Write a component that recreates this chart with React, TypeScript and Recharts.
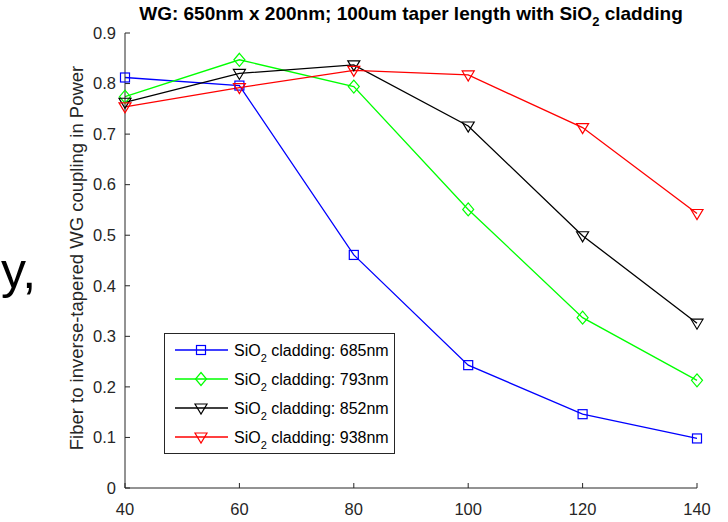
import { Legend, Line, LineChart, XAxis, YAxis } from 'recharts';

// taper tip width (nm) and coupling per cladding thickness
const tipWidths = [40, 60, 80, 100, 120, 140];
const clad685 = [0.812, 0.796, 0.461, 0.243, 0.146, 0.098];
const clad793 = [0.774, 0.847, 0.794, 0.551, 0.337, 0.213];
const clad852 = [0.763, 0.82, 0.837, 0.716, 0.499, 0.326];
const clad938 = [0.754, 0.792, 0.826, 0.817, 0.713, 0.543];

const xTicks = [40, 60, 80, 100, 120, 140];
const yTicks = [0, 0.1, 0.2, 0.3, 0.4, 0.5, 0.6, 0.7, 0.8, 0.9];

const series = [
  { key: 'c685', thickness: '685nm', values: clad685, color: '#0000FF', marker: 'square' },
  { key: 'c793', thickness: '793nm', values: clad793, color: '#00FF00', marker: 'diamond' },
  { key: 'c852', thickness: '852nm', values: clad852, color: '#000000', marker: 'triangle' },
  { key: 'c938', thickness: '938nm', values: clad938, color: '#FF0000', marker: 'triangle' },
];

const rows = tipWidths.map((x, i) => {
  const row: Record<string, number> = { x };
  series.forEach((s) => {
    row[s.key] = s.values[i];
  });
  return row;
});

const FONT = '"Liberation Sans", Arial, sans-serif';
const AXIS = '#262626';

function Marker({ cx, cy, color, shape }: { cx: number; cy: number; color: string; shape: string }) {
  if (shape === 'square') {
    return <rect x={cx - 4.5} y={cy - 4.5} width={9} height={9} fill="none" stroke={color} strokeWidth={1.2} />;
  }
  if (shape === 'diamond') {
    return (
      <polygon
        points={`${cx},${cy - 6.5} ${cx + 5.5},${cy} ${cx},${cy + 6.5} ${cx - 5.5},${cy}`}
        fill="none"
        stroke={color}
        strokeWidth={1.2}
      />
    );
  }
  return (
    <polygon
      points={`${cx - 6},${cy - 4} ${cx + 6},${cy - 4} ${cx},${cy + 6}`}
      fill="none"
      stroke={color}
      strokeWidth={1.2}
    />
  );
}

function XTick({ x, y, payload }: any) {
  return (
    <g>
      <line x1={x} x2={x} y1={y} y2={y - 5} stroke={AXIS} strokeWidth={1} />
      <text x={x} y={y + 27} textAnchor="middle" fontSize={16.5} fill={AXIS} fontFamily={FONT}>
        {payload.value}
      </text>
    </g>
  );
}

function YTick({ x, y, payload }: any) {
  return (
    <g>
      <line x1={x} x2={x + 5} y1={y} y2={y} stroke={AXIS} strokeWidth={1} />
      <text x={x - 9} y={y} dy="0.35em" textAnchor="end" fontSize={16.5} fill={AXIS} fontFamily={FONT}>
        {payload.value}
      </text>
    </g>
  );
}

function CladdingLegend() {
  return (
    <div
      style={{
        width: 231,
        height: 121,
        boxSizing: 'border-box',
        border: `1px solid ${AXIS}`,
        background: '#fff',
      }}
    >
      <svg width={229} height={119}>
        {series.map((s, i) => {
          const cy = 16 + i * 29;
          return (
            <g key={s.key}>
              <line x1={10} x2={63} y1={cy} y2={cy} stroke={s.color} strokeWidth={1.3} />
              <Marker cx={36} cy={cy} color={s.color} shape={s.marker} />
              <text x={69} y={cy} dy="0.35em" fontSize={16} fontFamily={FONT} fill="#000">
                SiO
                <tspan dy={6} fontSize={11}>2</tspan>
                <tspan dy={-6}> cladding: {s.thickness}</tspan>
              </text>
            </g>
          );
        })}
      </svg>
    </div>
  );
}

export default function App() {
  return (
    <div style={{ position: 'absolute', left: 0, top: 0, width: 728, height: 522, background: '#fff' }}>
      <LineChart width={728} height={522} data={rows} margin={{ top: 33, right: 31, bottom: 4, left: 65 }}>
        <XAxis
          dataKey="x"
          type="number"
          domain={[40, 140]}
          ticks={xTicks}
          height={30}
          tickSize={0}
          tickMargin={0}
          tick={<XTick />}
          axisLine={{ stroke: AXIS, strokeWidth: 1 }}
          tickLine={false}
        />
        <YAxis
          type="number"
          domain={[0, 0.9]}
          ticks={yTicks}
          width={60}
          tickSize={0}
          tickMargin={0}
          tick={<YTick />}
          axisLine={{ stroke: AXIS, strokeWidth: 1 }}
          tickLine={false}
        />
        <Legend
          layout="vertical"
          align="center"
          verticalAlign="middle"
          wrapperStyle={{ left: 164, top: 333, width: 231, height: 121 }}
          content={<CladdingLegend />}
        />
        {series.map((s) => (
          <Line
            key={s.key}
            dataKey={s.key}
            type="linear"
            stroke={s.color}
            strokeWidth={1.3}
            isAnimationActive={false}
            activeDot={false}
            dot={(p: any) => <Marker key={`${s.key}-${p.index}`} cx={p.cx} cy={p.cy} color={s.color} shape={s.marker} />}
          />
        ))}
      </LineChart>
      <svg
        width={728}
        height={522}
        style={{ position: 'absolute', left: 0, top: 0, pointerEvents: 'none' }}
      >
        <text x={411} y={20} textAnchor="middle" fontSize={19} fontWeight="bold" fontFamily={FONT} fill="#000">
          WG: 650nm x 200nm; 100um taper length with SiO
          <tspan dy={6} fontSize={13}>2</tspan>
          <tspan dy={-6}> cladding</tspan>
        </text>
        <text
          transform="translate(83,258) rotate(-90)"
          textAnchor="middle"
          fontSize={18.5}
          fontFamily={FONT}
          fill={AXIS}
        >
          Fiber to inverse-tapered WG coupling in Power
        </text>
        <text x={1} y={288} fontSize={50} fontFamily={FONT} fill="#000">
          y,
        </text>
      </svg>
    </div>
  );
}
